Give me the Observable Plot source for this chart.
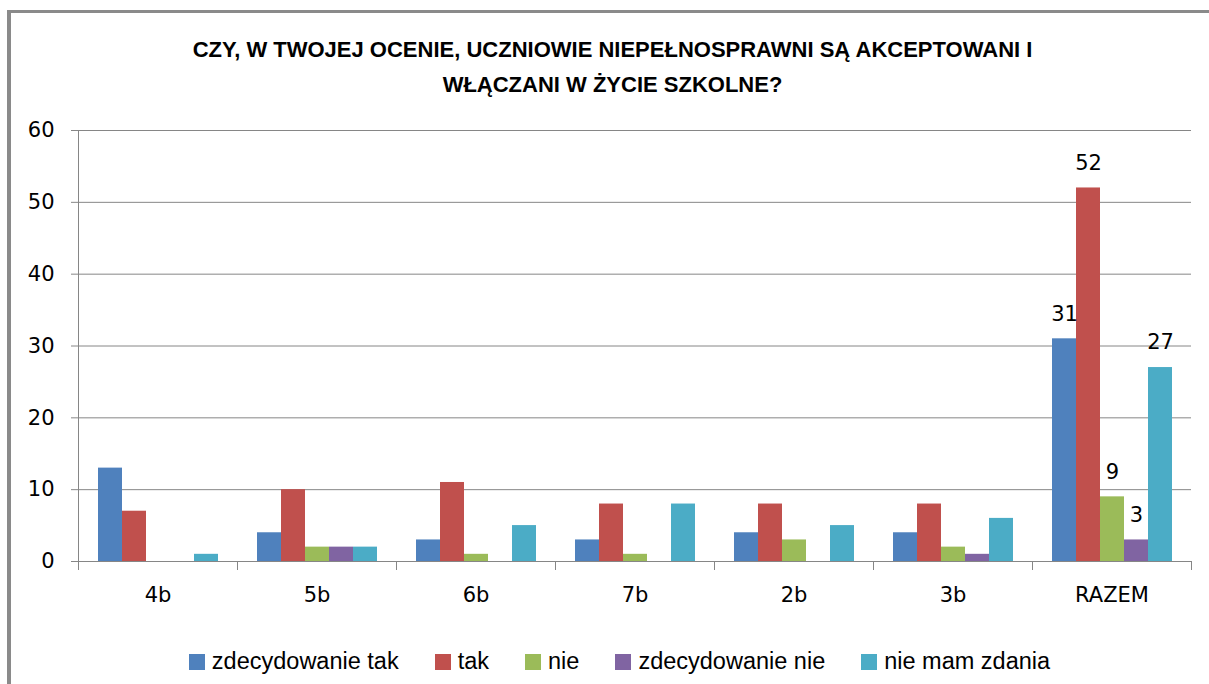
<!DOCTYPE html>
<html>
<head>
<meta charset="utf-8">
<script src="https://cdn.jsdelivr.net/npm/d3@7"></script>
<script src="https://cdn.jsdelivr.net/npm/@observablehq/plot@0.6"></script>
<style>
  html, body { margin: 0; padding: 0; background: #fff; }
  #wrap { position: relative; width: 1209px; height: 684px; overflow: hidden; }
  #border { position: absolute; left: 7px; top: 10px; width: 1400px; height: 900px;
            border-left: 4px solid #8a8a8a; border-top: 3px solid #8a8a8a; }
  #title { position: relative; width: 1209px; height: 118px; box-sizing: border-box;
           padding-top: 32px; padding-left: 16px; text-align: center;
           font-family: "Liberation Sans", Arial, sans-serif; font-weight: bold;
           font-size: 22px; line-height: 35px; color: #000; }
  #chart { position: relative; height: 500px; }
  #legend { position: relative; height: 66px; box-sizing: border-box; padding-top: 21px;
            padding-left: 30px; display: flex; justify-content: center; align-items: center;
            font-family: "Liberation Sans", Arial, sans-serif; font-size: 23.5px; color: #000; }
  .item { display: flex; align-items: center; margin: 0 18px; }
  .sw { width: 16px; height: 16px; margin-right: 7px; }
</style>
</head>
<body>
<div id="wrap">
  <div id="border"></div>
  <div id="title">CZY, W TWOJEJ OCENIE, UCZNIOWIE NIEPEŁNOSPRAWNI SĄ AKCEPTOWANI I<br>WŁĄCZANI W ŻYCIE SZKOLNE?</div>
  <div id="chart"></div>
  <div id="legend"></div>
</div>
<script>
const categories = ["4b", "5b", "6b", "7b", "2b", "3b", "RAZEM"];
const seriesNames = ["zdecydowanie tak", "tak", "nie", "zdecydowanie nie", "nie mam zdania"];
const zdecydowanieTak = [13, 4, 3, 3, 4, 4, 31];
const tak = [7, 10, 11, 8, 8, 8, 52];
const nie = [0, 2, 1, 1, 3, 2, 9];
const zdecydowanieNie = [0, 2, 0, 0, 0, 1, 3];
const nieMamZdania = [1, 2, 5, 8, 5, 6, 27];
const seriesColors = ["#4F81BD", "#C0504D", "#9BBB59", "#8064A2", "#4BACC6"];
const yTicks = [0, 10, 20, 30, 40, 50, 60];
const labeledCategory = "RAZEM";

const seriesValues = [zdecydowanieTak, tak, nie, zdecydowanieNie, nieMamZdania];
const data = categories.flatMap((c, i) =>
  seriesNames.map((s, j) => ({category: c, series: s, value: seriesValues[j][i]}))
);

const grey = "#868686";
const H = 500, MT = 12, MB = 57;
const frameHeight = H - MT - MB;
const chart = Plot.plot({
  width: 1209,
  height: H,
  marginTop: MT,
  marginBottom: MB,
  marginLeft: 77,
  marginRight: 18,
  style: {fontFamily: "DejaVu Sans, sans-serif", fontSize: "21px", color: "#000", background: "transparent", overflow: "visible"},
  fx: {domain: categories, padding: 0, label: null},
  x: {domain: seriesNames, paddingInner: 0, paddingOuter: 0.73, axis: null},
  y: {domain: [0, 60], label: null},
  color: {domain: seriesNames, range: seriesColors},
  marks: [
    Plot.gridY(yTicks, {stroke: grey, strokeOpacity: 1, strokeWidth: 1}),
    // category divider tick marks below the baseline
    Plot.frame({anchor: "left", stroke: grey, insetTop: frameHeight, insetBottom: -8}),
    Plot.frame({anchor: "right", stroke: grey, insetTop: frameHeight, insetBottom: -8}),
    // value axis line
    Plot.frame({anchor: "left", stroke: grey, facet: "super", insetBottom: -8}),
    Plot.barY(data, {fx: "category", x: "series", y: "value", fill: "series"}),
    Plot.text(data.filter(d => d.category === labeledCategory), {
      fx: "category", x: "series", y: "value", text: d => String(d.value),
      lineAnchor: "middle", dy: -25, fill: "#000", fontSize: 21
    }),
    Plot.axisY(yTicks, {anchor: "left", tickSize: 7, tickPadding: 17, stroke: grey, fill: "#000", fontSize: 21, label: null}),
    Plot.axisFx({anchor: "bottom", tickSize: 0, tickPadding: 26, fill: "#000", fontSize: 21, label: null})
  ]
});
document.getElementById("chart").appendChild(chart);

const legend = d3.select("#legend");
seriesNames.forEach((s, i) => {
  const it = legend.append("div").attr("class", "item");
  it.append("div").attr("class", "sw").style("background", seriesColors[i]);
  it.append("span").text(s);
});
</script>
</body>
</html>
